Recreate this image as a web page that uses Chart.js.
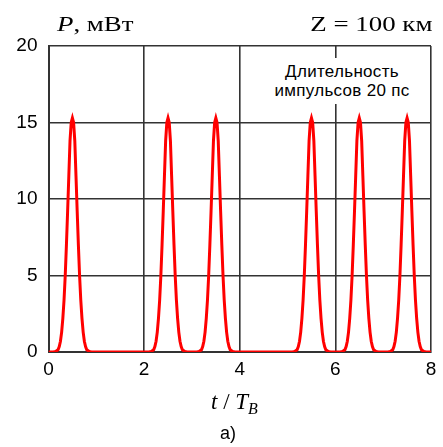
<!DOCTYPE html>
<html>
<head>
<meta charset="utf-8">
<script src="https://cdn.jsdelivr.net/npm/chart.js@4/dist/chart.umd.min.js"></script>
<style>
  html, body { margin: 0; padding: 0; background: #fff; }
  #wrap { position: relative; width: 443px; height: 447px; overflow: hidden; }
  #c { position: absolute; left: 0; top: 0; }
  .t { position: absolute; white-space: nowrap; color: #000; line-height: 1; }
  .serif { font-family: "Liberation Serif", "Times New Roman", serif; }
  .sans { font-family: "Liberation Sans", Arial, sans-serif; }
</style>
</head>
<body>
<div id="wrap">
  <canvas id="c" width="443" height="447"></canvas>
  <div class="t serif" style="left:57px; top:14px; font-size:21px; transform:scaleX(1.28); transform-origin:left top;"><i>P</i>, мВт</div>
  <div class="t serif" style="right:11px; top:14px; font-size:21px; transform:scaleX(1.28); transform-origin:right top;">Z = 100 км</div>
  <div class="t sans" style="left:266px; top:58px; width:152px; background:#fff; font-size:17px; text-align:center; line-height:19px; padding:4px 0 4px 0; letter-spacing:0.3px;">Длительность<br>импульсов 20 пс</div>
  <div class="t serif" style="left:211px; top:390px; font-size:23px;"><i>t</i> / <i>T</i><sub style="font-size:16px; vertical-align:-5px;"><i>B</i></sub></div>
  <div class="t sans" style="left:220px; top:424px; font-size:18px;">а)</div>
</div>
<script>
// Tick labels
const xTicks = [0, 2, 4, 6, 8];
const yTicks = [0, 5, 10, 15, 20];
// Pulse centres (t / T_B)
const pulseCenters = [0.5, 2.5, 3.5, 5.5, 6.5, 7.5];
// Pulse profile: offsets from centre and power (mW)
const pulseOffsets = [-0.4, -0.35, -0.3, -0.275, -0.25, -0.225, -0.2, -0.175, -0.15, -0.125, -0.1, -0.075, -0.05, -0.025, 0,
                      0.025, 0.05, 0.075, 0.1, 0.125, 0.15, 0.175, 0.2, 0.225, 0.25, 0.275, 0.3, 0.35, 0.4];
const pulsePower = [0, 0.03, 0.15, 0.35, 0.7, 1.3, 2.2, 3.4, 5.0, 7.0, 9.2, 11.5, 13.8, 15.0, 15.3,
                    15.0, 13.8, 11.5, 9.2, 7.0, 5.0, 3.4, 2.2, 1.3, 0.7, 0.35, 0.15, 0.03, 0];

const points = [{x: 0, y: 0}];
pulseCenters.forEach(c => {
  pulseOffsets.forEach((o, i) => points.push({x: +(c + o).toFixed(3), y: pulsePower[i]}));
});
points.push({x: 8, y: 0});

const tickFont = { family: '"Liberation Sans", Arial, sans-serif', size: 19 };
const gridColor = '#333';

new Chart(document.getElementById('c'), {
  type: 'line',
  data: {
    datasets: [{
      data: points,
      borderColor: '#ff0000',
      borderWidth: 3,
      pointRadius: 0,
      tension: 0,
      fill: false
    }]
  },
  options: {
    responsive: false,
    animation: false,
    devicePixelRatio: 1,
    layout: { padding: { left: 0, top: 46, right: 12, bottom: 65 } },
    plugins: { legend: { display: false }, tooltip: { enabled: false } },
    scales: {
      x: {
        type: 'linear', min: 0, max: 8,
        afterBuildTicks: s => { s.ticks = xTicks.map(v => ({ value: v })); },
        afterFit: s => { s.height = 30; },
        ticks: { font: tickFont, color: '#000', padding: 6, maxRotation: 0 },
        grid: { color: gridColor, lineWidth: 1.6, drawTicks: false },
        border: { color: gridColor, width: 2 }
      },
      y: {
        type: 'linear', min: 0, max: 20,
        afterBuildTicks: s => { s.ticks = yTicks.map(v => ({ value: v })); },
        afterFit: s => { s.width = 48.5; },
        ticks: { font: tickFont, color: '#000', padding: 11 },
        grid: { color: gridColor, lineWidth: 1.6, drawTicks: false },
        border: { color: gridColor, width: 2 }
      }
    }
  }
});
</script>
</body>
</html>
